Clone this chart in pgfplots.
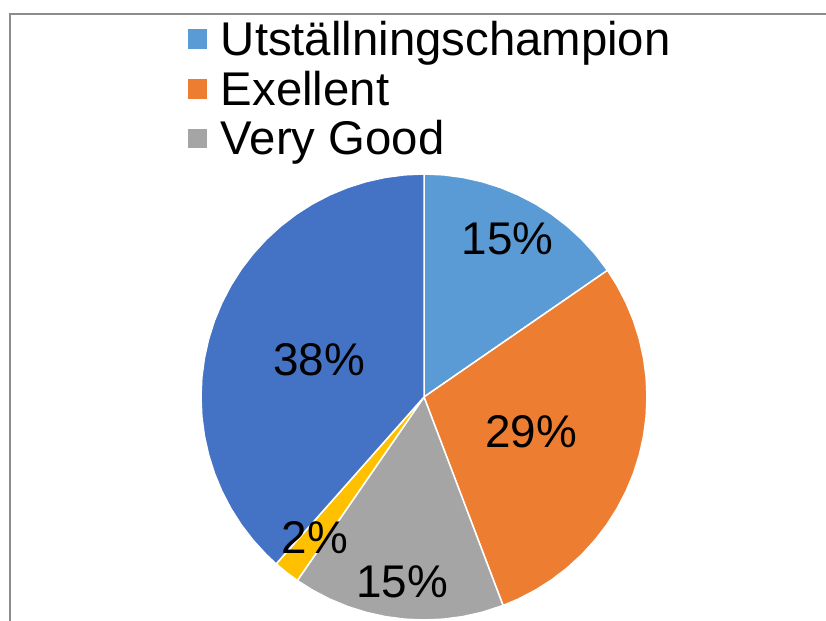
\documentclass[border=0pt]{standalone}
\usepackage{pgfplots}
\pgfplotsset{compat=1.18}
\usepgfplotslibrary{polar}
\usepackage{fontspec}
\setmainfont{Liberation Sans}
\definecolor{cA}{HTML}{5B9BD5}
\definecolor{cB}{HTML}{ED7D31}
\definecolor{cC}{HTML}{A5A5A5}
\definecolor{cD}{HTML}{FFC000}
\definecolor{cE}{HTML}{4472C4}
\definecolor{frame}{HTML}{8C8C8C}
\begin{document}
\begin{tikzpicture}
\path[use as bounding box] (0,0) rectangle (826bp,621bp);
\draw[frame, line width=2bp] (9.5bp,-5bp) -- (9.5bp,607bp) -- (830bp,607bp);
\begin{polaraxis}[
  at={(424bp,224bp)}, anchor=center,
  width=446bp, height=446bp, scale only axis,
  hide axis, ymin=0, ymax=1, xmin=0, xmax=360,
  clip=false,
  legend style={at={(-0.04,1.35)}, anchor=north west, draw=none, fill=none,
    font=\fontsize{47.5}{50}\selectfont, row sep=12bp,
    nodes={inner sep=1bp}, column sep=11bp},
  legend cell align=left,
  legend image code/.code={\fill[#1] (0bp,-10.5bp) rectangle (21bp,10.5bp);},
]
\addplot[fill=cA, draw=white, line width=1.5bp] coordinates {
 (0,0) (90,1) (85,1) (80,1) (75,1) (70,1) (65,1) (60,1) (55,1) (50,1) (45,1) (40,1) (34.615,1)} -- cycle;
\addlegendentry{Utställningschampion}
\addplot[fill=cB, draw=white, line width=1.5bp] coordinates {
 (0,0) (34.615,1) (30,1) (25,1) (20,1) (15,1) (10,1) (5,1) (0,1) (-5,1) (-10,1) (-15,1) (-20,1)
 (-25,1) (-30,1) (-35,1) (-40,1) (-45,1) (-50,1) (-55,1) (-60,1) (-65,1) (-69.231,1)} -- cycle;
\addlegendentry{Exellent}
\addplot[fill=cC, draw=white, line width=1.5bp] coordinates {
 (0,0) (-69.231,1) (-75,1) (-80,1) (-85,1) (-90,1) (-95,1) (-100,1) (-105,1) (-110,1) (-115,1)
 (-120,1) (-124.615,1)} -- cycle;
\addlegendentry{Very Good}
\addplot[fill=cD, draw=white, line width=1.5bp, forget plot] coordinates {
 (0,0) (-124.615,1) (-128,1) (-131.538,1)} -- cycle;
\addplot[fill=cE, draw=white, line width=1.5bp, forget plot] coordinates {
 (0,0) (-131.538,1) (-135,1) (-140,1) (-145,1) (-150,1) (-155,1) (-160,1) (-165,1) (-170,1)
 (-175,1) (-180,1) (-185,1) (-190,1) (-195,1) (-200,1) (-205,1) (-210,1) (-215,1) (-220,1)
 (-225,1) (-230,1) (-235,1) (-240,1) (-245,1) (-250,1) (-255,1) (-260,1) (-265,1) (-270,1)} -- cycle;
\begin{scope}[every node/.style={font=\fontsize{46}{50}\selectfont, inner sep=0pt, anchor=center}]
\node at (axis cs:62.1,0.801) {15\%};
\node at (axis cs:-18.1,0.505) {29\%};
\node at (axis cs:-96.8,0.833) {15\%};
\node at (axis cs:-127.7,0.799) {2\%};
\node at (axis cs:160.3,0.5) {38\%};
\end{scope}
\end{polaraxis}
\end{tikzpicture}
\end{document}
